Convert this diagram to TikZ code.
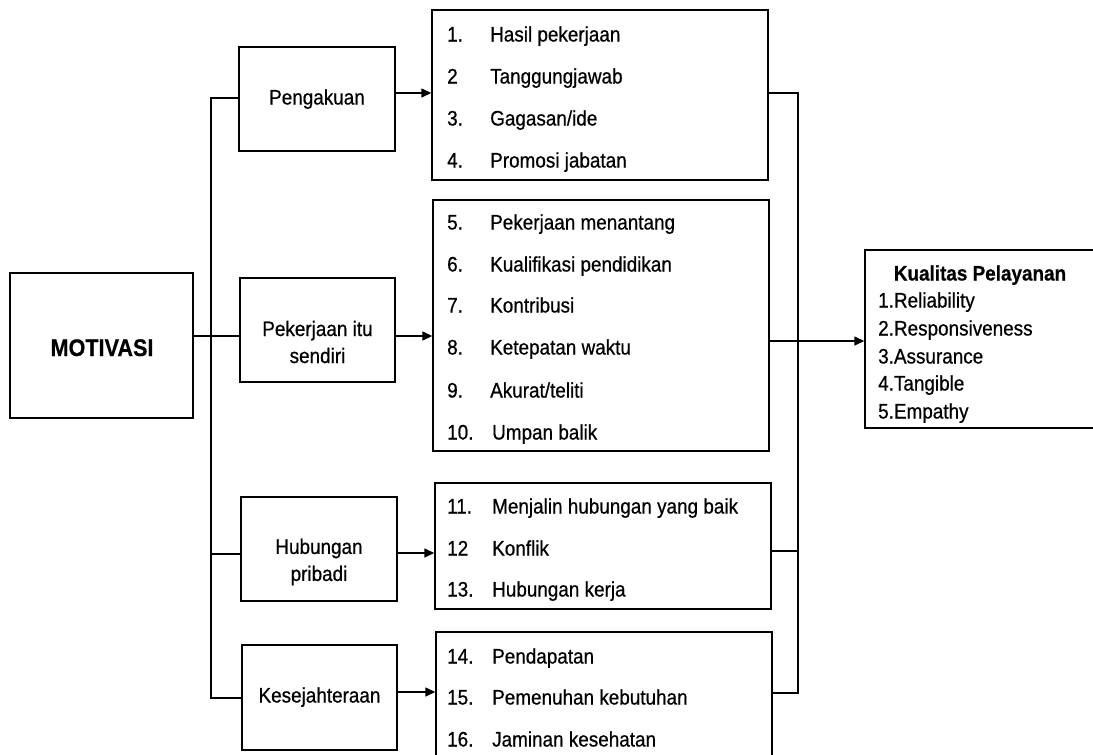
\documentclass[tikz,border=0pt]{standalone}
\usepackage{fontspec}
\setmainfont{Liberation Sans}[FakeStretch=0.9, FakeBold=0.6]
\usetikzlibrary{arrows.meta}
\begin{document}
\begin{tikzpicture}[x=1pt,y=-1pt,
  box/.style={draw, line width=1.4pt, inner sep=0pt},
  conn/.style={line width=1.4pt},
  arr/.style={conn, -{Triangle[length=10pt,width=9pt]}},
  txt/.style={inner sep=0pt, font=\fontsize{21}{27}\selectfont},
  item/.style={txt, anchor=base west, yshift=-7.5pt},
  one/.style={txt, anchor=base, yshift=-7.5pt},
  lbl/.style={txt, align=center}]
\clip (0,0) rectangle (1093,755);
\fill[white] (0,0) rectangle (1093,755);

% boxes
\node[box, minimum width=183pt, minimum height=145pt] (motiv) at (101.5,345.5) {};
\node[box, minimum width=156pt, minimum height=104pt] (peng) at (317,99) {};
\node[box, minimum width=155pt, minimum height=104pt] (pek) at (317.5,330) {};
\node[box, minimum width=156pt, minimum height=104pt] (hub) at (319,549) {};
\node[box, minimum width=155pt, minimum height=105pt] (kes) at (319.5,697.5) {};
\node[box, minimum width=336pt, minimum height=170pt] (L1) at (600,95) {};
\node[box, minimum width=336pt, minimum height=251pt] (L2) at (601,325.5) {};
\node[box, minimum width=336pt, minimum height=126pt] (L3) at (603,546) {};
\node[box, minimum width=336pt, minimum height=133pt] (L4) at (604,698.5) {};
\node[box, minimum width=240pt, minimum height=178pt] (KP) at (985,339) {};

% labels of left boxes
\node[txt, anchor=base, font=\fontsize{24}{28}\selectfont\bfseries] (tmotiv) at (102,356) {MOTIVASI};
\node[one] (tpeng) at (317,97) {Pengakuan};
\node[lbl] (tpek) at (317.5,342) {Pekerjaan itu\\sendiri};
\node[lbl] (thub) at (319,562) {Hubungan\\pribadi};
\node[one] (tkes) at (319.5,695) {Kesejahteraan};

% list 1
\node[item] (n1) at (447,34) {1.};   \node[item] (i1) at (490,34) {Hasil pekerjaan};
\node[item] (n2) at (447,76) {2};    \node[item] (i2) at (490,76) {Tanggungjawab};
\node[item] (n3) at (447,118) {3.};  \node[item] (i3) at (490,118) {Gagasan/ide};
\node[item] (n4) at (447,160) {4.};  \node[item] (i4) at (490,160) {Promosi jabatan};
% list 2
\node[item] (n5) at (447,222) {5.};  \node[item] (i5) at (490,222) {Pekerjaan menantang};
\node[item] (n6) at (447,264) {6.};  \node[item] (i6) at (490,264) {Kualifikasi pendidikan};
\node[item] (n7) at (447,305) {7.};  \node[item] (i7) at (490,305) {Kontribusi};
\node[item] (n8) at (447,347) {8.};  \node[item] (i8) at (490,347) {Ketepatan waktu};
\node[item] (n9) at (447,390) {9.};  \node[item] (i9) at (490,390) {Akurat/teliti};
\node[item] (n10) at (447,432) {10.}; \node[item] (i10) at (492,432) {Umpan balik};
% list 3
\node[item] (n11) at (447,506) {11.}; \node[item] (i11) at (492,506) {Menjalin hubungan yang baik};
\node[item] (n12) at (447,548) {12};  \node[item] (i12) at (492,548) {Konflik};
\node[item] (n13) at (447,589) {13.}; \node[item] (i13) at (492,589) {Hubungan kerja};
% list 4
\node[item] (n14) at (447,656) {14.}; \node[item] (i14) at (492,656) {Pendapatan};
\node[item] (n15) at (447,697) {15.}; \node[item] (i15) at (492,697) {Pemenuhan kebutuhan};
\node[item] (n16) at (447,739) {16.}; \node[item] (i16) at (492,739) {Jaminan kesehatan};

% Kualitas Pelayanan
\node[one, font=\fontsize{21}{27}\selectfont\bfseries] (kt) at (980,273) {Kualitas Pelayanan};
\node[item] (k1) at (878,300) {1.Reliability};
\node[item] (k2) at (878,328) {2.Responsiveness};
\node[item] (k3) at (878,356) {3.Assurance};
\node[item] (k4) at (878,383) {4.Tangible};
\node[item] (k5) at (878,411) {5.Empathy};

% coordinates of the connector lines
\coordinate (s1) at (211,98);
\coordinate (s3) at (211,554);
\coordinate (s4) at (211,698);
\coordinate (yM) at (0,336);
\coordinate (a1) at (0,93);
\coordinate (a2) at (0,336);
\coordinate (a3) at (0,553);
\coordinate (a4) at (0,692);
\coordinate (r1) at (798,93);
\coordinate (r3) at (798,551);
\coordinate (r4) at (798,693);
\coordinate (yK) at (0,341);

% left spine
\draw[conn] (peng.west |- s1) -- (s1) -- (s4) -- (kes.west |- s4);
\draw[conn] (s3) -- (hub.west |- s3);
\draw[conn] (motiv.east |- yM) -- (pek.west |- yM);

% arrows to the lists
\draw[arr] (peng.east |- a1) -- (L1.west |- a1);
\draw[arr] (pek.east |- a2) -- (L2.west |- a2);
\draw[arr] (hub.east |- a3) -- (L3.west |- a3);
\draw[arr] (kes.east |- a4) -- (L4.west |- a4);

% right spine
\draw[conn] (L1.east |- r1) -- (r1) -- (r4) -- (L4.east |- r4);
\draw[conn] (L3.east |- r3) -- (r3);
\draw[arr] (L2.east |- yK) -- (KP.west |- yK);
\end{tikzpicture}
\end{document}
